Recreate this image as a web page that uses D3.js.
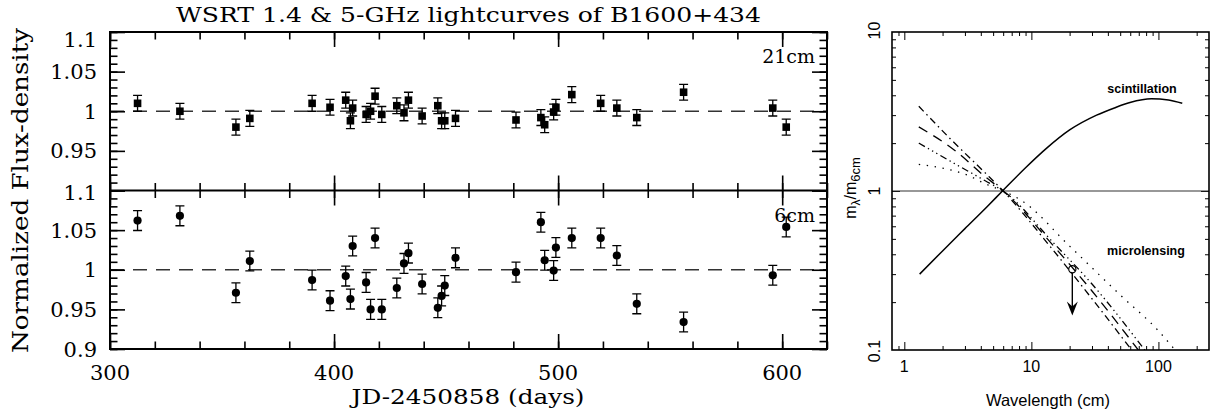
<!DOCTYPE html>
<html>
<head>
<meta charset="utf-8">
<script src="https://cdn.jsdelivr.net/npm/d3@7"></script>
<style>
    html, body { margin: 0; padding: 0; background: #fff; }
    svg { display: block; }
</style>
</head>
<body>
<svg id="chart" width="1218" height="419"></svg>
<script>
// epochs shared by both light curves (JD-2450858)
const days = [312.3, 331.2, 356.2, 362.4, 390.2, 398.2, 405.2, 407.3, 408.3, 414.3, 416.3,
    418.3, 421.3, 428, 431.2, 433.2, 439.3, 446.3, 448, 449.4, 454.2, 481.2, 492.3, 494,
    498, 499, 506.1, 519, 526.2, 535.1, 556, 595.8, 601.8]
const flux21 = [1.010, 1.000, 0.980, 0.991, 1.010, 1.005, 1.014, 0.988, 1.004, 0.996, 1.000,
    1.019, 0.996, 1.007, 0.998, 1.014, 0.994, 1.007, 0.988, 0.988, 0.991, 0.989, 0.992, 0.983,
    0.999, 1.005, 1.021, 1.010, 1.004, 0.992, 1.024, 1.004, 0.980]
const flux6 = [1.062, 1.068, 0.971, 1.011, 0.987, 0.961, 0.992, 0.963, 1.030, 0.984, 0.950,
    1.040, 0.950, 0.977, 1.008, 1.021, 0.982, 0.952, 0.967, 0.980, 1.015, 0.997, 1.060, 1.012,
    0.999, 1.028, 1.040, 1.040, 1.018, 0.957, 0.934, 0.993, 1.054]
const ERR21 = 0.010
const ERR6 = 0.0125

const dayTicks = [300, 400, 500, 600]
const fluxTicksTop = [1.1, 1.05, 1, 0.95]
const fluxTicksBottom = [1.1, 1.05, 1, 0.95, 0.9]

// right panel: modulation-index ratio vs wavelength
const scintWave = [1.32, 2, 3, 4.5, 5.92, 9, 13.2, 20, 32.6, 45, 59.7, 88, 120, 154]
const scintRatio = [0.30, 0.42, 0.58, 0.80, 1.0, 1.40, 1.86, 2.42, 3.0, 3.33, 3.6, 3.80, 3.74, 3.56]

const lensWave1 = [1.3, 2.37, 4.33, 6, 15, 30, 61.5]
const lensRatio1 = [3.41, 2.08, 1.30, 1.0, 0.42, 0.21, 0.1]
const lensWave2 = [1.3, 2.5, 4.33, 6, 15, 30, 69.4]
const lensRatio2 = [2.53, 1.80, 1.23, 1.0, 0.45, 0.235, 0.1]
const lensWave3 = [1.3, 2.37, 4.33, 6, 15, 30, 78]
const lensRatio3 = [2.0, 1.52, 1.16, 1.0, 0.47, 0.26, 0.1]
const lensWave4 = [1.3, 2.37, 3.2, 4.33, 6, 8.4, 20, 50, 100, 135]
const lensRatio4 = [1.47, 1.35, 1.25, 1.11, 1.0, 0.87, 0.45, 0.222, 0.132, 0.1]

const limitWave = 21
const limitRatio = 0.322
const limitArrowTo = 0.165

const waveTicks = [1, 10, 100]
const waveTickLabels = ['1', '10', '100']
const ratioTicks = [10, 1, 0.1]
const ratioTickLabels = ['10', '1', '0.1']

const svg = d3.select('#chart')
const SERIF = "'DejaVu Serif', serif"
const SANS = "'Liberation Sans', Arial, sans-serif"

// ---------- left: light curves ----------
const L = { left: 110, right: 827, top: 32, mid: 190.5, bottom: 349 }

const xDay = d3.scaleLinear().domain([300, 620]).range([L.left, L.right])
const yTop = d3.scaleLinear().domain([0.9, 1.1]).range([L.mid, L.top])
const yBot = d3.scaleLinear().domain([0.9, 1.1]).range([L.bottom, L.mid])

const minorDays = d3.range(300, 621, 20)
const minorFlux = d3.range(90, 111).map(v => v / 100)
const majorFlux = [0.9, 0.95, 1, 1.05, 1.1]

function tickAxis(parent, axisFn, scale, values, size, transform, width) {
    parent.append('g')
        .attr('transform', transform)
        .call(axisFn(scale).tickValues(values).tickSize(size).tickFormat(''))
        .call(a => a.select('.domain').remove())
        .selectAll('line')
        .attr('stroke', '#000')
        .attr('stroke-width', width)
}

const left = svg.append('g')

function drawPanel(yScale, y0, y1, values, err, marker, label, labelY) {
    const g = left.append('g')

    // reference level
    g.append('line')
        .attr('x1', L.left).attr('x2', L.right)
        .attr('y1', yScale(1)).attr('y2', yScale(1))
        .attr('stroke', '#333').attr('stroke-width', 1.3)
        .attr('stroke-dasharray', '14,9')

    // ticks, all pointing inward
    tickAxis(g, d3.axisBottom, xDay, minorDays, -7.5, `translate(0,${y1})`, 1.6)
    tickAxis(g, d3.axisBottom, xDay, dayTicks, -15, `translate(0,${y1})`, 1.6)
    tickAxis(g, d3.axisTop, xDay, minorDays, -7.5, `translate(0,${y0})`, 1.6)
    tickAxis(g, d3.axisTop, xDay, dayTicks, -15, `translate(0,${y0})`, 1.6)
    tickAxis(g, d3.axisLeft, yScale, minorFlux, -7.5, `translate(${L.left},0)`, 1.6)
    tickAxis(g, d3.axisLeft, yScale, majorFlux, -15, `translate(${L.left},0)`, 1.6)
    tickAxis(g, d3.axisRight, yScale, minorFlux, -7.5, `translate(${L.right},0)`, 1.6)
    tickAxis(g, d3.axisRight, yScale, majorFlux, -15, `translate(${L.right},0)`, 1.6)

    const pts = days.map((d, i) => ({ day: d, v: values[i] }))

    g.selectAll('.err').data(pts).enter()
        .append('path').attr('class', 'err')
        .attr('fill', 'none').attr('stroke', '#000').attr('stroke-width', 1.3)
        .attr('d', d => {
            const x = xDay(d.day), ya = yScale(d.v + err), yb = yScale(d.v - err)
            return `M${x - 4.5},${ya}H${x + 4.5}M${x},${ya}V${yb}M${x - 4.5},${yb}H${x + 4.5}`
        })

    if (marker === 'square') {
        g.selectAll('.pt').data(pts).enter()
            .append('rect').attr('class', 'pt')
            .attr('x', d => xDay(d.day) - 3.8).attr('y', d => yScale(d.v) - 3.8)
            .attr('width', 7.6).attr('height', 7.6)
            .attr('fill', '#000')
    } else {
        g.selectAll('.pt').data(pts).enter()
            .append('circle').attr('class', 'pt')
            .attr('cx', d => xDay(d.day)).attr('cy', d => yScale(d.v))
            .attr('r', 4.1).attr('fill', '#000')
    }

    g.append('text')
        .attr('x', 815).attr('y', labelY)
        .attr('text-anchor', 'end')
        .style('font-family', SERIF).style('font-size', '19px')
        .text(label)
}

drawPanel(yTop, L.top, L.mid, flux21, ERR21, 'square', '21cm', 63)
drawPanel(yBot, L.mid, L.bottom, flux6, ERR6, 'circle', '6cm', 222)

// frame + divider
left.append('rect')
    .attr('x', L.left).attr('y', L.top)
    .attr('width', L.right - L.left).attr('height', L.bottom - L.top)
    .attr('fill', 'none').attr('stroke', '#000').attr('stroke-width', 2)
left.append('line')
    .attr('x1', L.left).attr('x2', L.right)
    .attr('y1', L.mid).attr('y2', L.mid)
    .attr('stroke', '#000').attr('stroke-width', 2)

// tick labels
const serifLabel = (x, y, txt, anchor) => left.append('text')
    .attr('x', x).attr('y', y)
    .attr('text-anchor', anchor)
    .style('font-family', SERIF).style('font-size', '21px')
    .text(txt)

fluxTicksTop.forEach(v => {
    // the top label sits a bit lower so it stays inside the frame height
    const y = v === 1.1 ? yTop(v) + 7 : yTop(v)
    serifLabel(97, y + 7.5, v, 'end')
})
fluxTicksBottom.forEach(v => {
    const y = v === 1.1 ? yBot(v) + 2 : yBot(v)
    serifLabel(97, y + 7.5, v, 'end')
})
dayTicks.forEach(d => serifLabel(xDay(d), 380, d, 'middle'))

left.append('text')
    .attr('x', (L.left + L.right) / 2).attr('y', 22)
    .attr('text-anchor', 'middle')
    .attr('textLength', 585).attr('lengthAdjust', 'spacingAndGlyphs')
    .style('font-family', SERIF).style('font-size', '21px')
    .text('WSRT 1.4 & 5-GHz lightcurves of B1600+434')

left.append('text')
    .attr('x', 468).attr('y', 404)
    .attr('text-anchor', 'middle')
    .attr('textLength', 233).attr('lengthAdjust', 'spacingAndGlyphs')
    .style('font-family', SERIF).style('font-size', '21px')
    .text('JD-2450858 (days)')

left.append('text')
    .attr('transform', 'translate(28,190.5) rotate(-90)')
    .attr('text-anchor', 'middle')
    .attr('textLength', 325).attr('lengthAdjust', 'spacingAndGlyphs')
    .style('font-family', SERIF).style('font-size', '22px')
    .text('Normalized Flux-density')

// ---------- right: m_lambda / m_6cm ----------
const R = { left: 892, right: 1209, top: 32, bottom: 350 }
const xWave = d3.scaleLog().domain([0.8, 250]).range([R.left, R.right])
const yRatio = d3.scaleLog().domain([0.1, 10]).range([R.bottom, R.top])

const right = svg.append('g')

right.append('defs').append('clipPath').attr('id', 'rclip')
    .append('rect')
    .attr('x', R.left).attr('y', R.top)
    .attr('width', R.right - R.left).attr('height', R.bottom - R.top)

const minorWave = []
;[0.1, 1, 10, 100].forEach(dec => d3.range(2, 10).forEach(k => minorWave.push(k * dec)))
const minorWaveIn = minorWave.filter(v => v > 0.8 && v < 250)
const minorRatio = []
;[0.1, 1].forEach(dec => d3.range(2, 10).forEach(k => minorRatio.push(k * dec)))

tickAxis(right, d3.axisBottom, xWave, minorWaveIn, -4, `translate(0,${R.bottom})`, 1)
tickAxis(right, d3.axisBottom, xWave, waveTicks, -8, `translate(0,${R.bottom})`, 1)
tickAxis(right, d3.axisTop, xWave, minorWaveIn, -4, `translate(0,${R.top})`, 1)
tickAxis(right, d3.axisTop, xWave, waveTicks, -8, `translate(0,${R.top})`, 1)
tickAxis(right, d3.axisLeft, yRatio, minorRatio, -4, `translate(${R.left},0)`, 1)
tickAxis(right, d3.axisLeft, yRatio, [1], -8, `translate(${R.left},0)`, 1)
tickAxis(right, d3.axisRight, yRatio, minorRatio, -4, `translate(${R.right},0)`, 1)
tickAxis(right, d3.axisRight, yRatio, [1], -8, `translate(${R.right},0)`, 1)

// unity line
right.append('line')
    .attr('x1', R.left).attr('x2', R.right)
    .attr('y1', yRatio(1)).attr('y2', yRatio(1))
    .attr('stroke', '#333').attr('stroke-width', 1.1)

const curve = d3.line()
    .x(d => xWave(d[0]))
    .y(d => yRatio(d[1]))
    .curve(d3.curveMonotoneX)

const series = [
    { wave: scintWave, ratio: scintRatio, dash: null, width: 1.5 },
    { wave: lensWave1, ratio: lensRatio1, dash: '7,4,1.5,4', width: 1.3 },
    { wave: lensWave2, ratio: lensRatio2, dash: '10,7', width: 1.3 },
    { wave: lensWave3, ratio: lensRatio3, dash: '7,3.5,1.3,3.5,1.3,3.5,1.3,3.5', width: 1.3 },
    { wave: lensWave4, ratio: lensRatio4, dash: '1.4,6.6', width: 1.3 },
]

series.forEach(s => {
    right.append('path')
        .datum(s.wave.map((w, i) => [w, s.ratio[i]]))
        .attr('fill', 'none')
        .attr('stroke', '#000')
        .attr('stroke-width', s.width)
        .attr('stroke-dasharray', s.dash)
        .attr('clip-path', 'url(#rclip)')
        .attr('d', curve)
})

// upper limit at 21 cm
const lx = xWave(limitWave)
const ly = yRatio(limitRatio)
const tipY = yRatio(limitArrowTo)
right.append('circle')
    .attr('cx', lx).attr('cy', ly).attr('r', 3.6)
    .attr('fill', 'none').attr('stroke', '#000').attr('stroke-width', 1.2)
right.append('line')
    .attr('x1', lx).attr('x2', lx)
    .attr('y1', ly + 3.6).attr('y2', tipY - 6)
    .attr('stroke', '#000').attr('stroke-width', 1.4)
right.append('path')
    .attr('d', `M${lx},${tipY}L${lx - 5.5},${tipY - 14}L${lx},${tipY - 9}L${lx + 5.5},${tipY - 14}Z`)
    .attr('fill', '#000')

right.append('rect')
    .attr('x', R.left).attr('y', R.top)
    .attr('width', R.right - R.left).attr('height', R.bottom - R.top)
    .attr('fill', 'none').attr('stroke', '#000').attr('stroke-width', 1.6)

const sansText = (x, y, txt, size, weight) => right.append('text')
    .attr('x', x).attr('y', y)
    .attr('text-anchor', 'middle')
    .style('font-family', SANS).style('font-size', size)
    .style('font-weight', weight || 'normal')
    .text(txt)

waveTicks.forEach((w, i) => sansText(xWave(w), 372, waveTickLabels[i], '16px'))
ratioTicks.forEach((r, i) => {
    right.append('text')
        .attr('transform', `translate(880,${yRatio(r) - (r === 10 ? 1.5 : r === 0.1 ? -1 : 0)}) rotate(-90)`)
        .attr('text-anchor', 'middle')
        .style('font-family', SANS).style('font-size', '16px')
        .text(ratioTickLabels[i])
})

sansText(1048, 406, 'Wavelength (cm)', '16.5px')
sansText(1142, 93, 'scintillation', '12.5px', 'bold')
sansText(1146, 255, 'microlensing', '12.5px', 'bold')

const ylab = right.append('text')
    .attr('transform', 'translate(856,188) rotate(-90)')
    .attr('text-anchor', 'middle')
    .style('font-family', SANS).style('font-size', '16px')
ylab.append('tspan').text('m')
ylab.append('tspan').attr('dy', 4).style('font-size', '12px').text('λ')
ylab.append('tspan').attr('dy', -4).text('/m')
ylab.append('tspan').attr('dy', 4).style('font-size', '13px').text('6cm')
</script>
</body>
</html>
